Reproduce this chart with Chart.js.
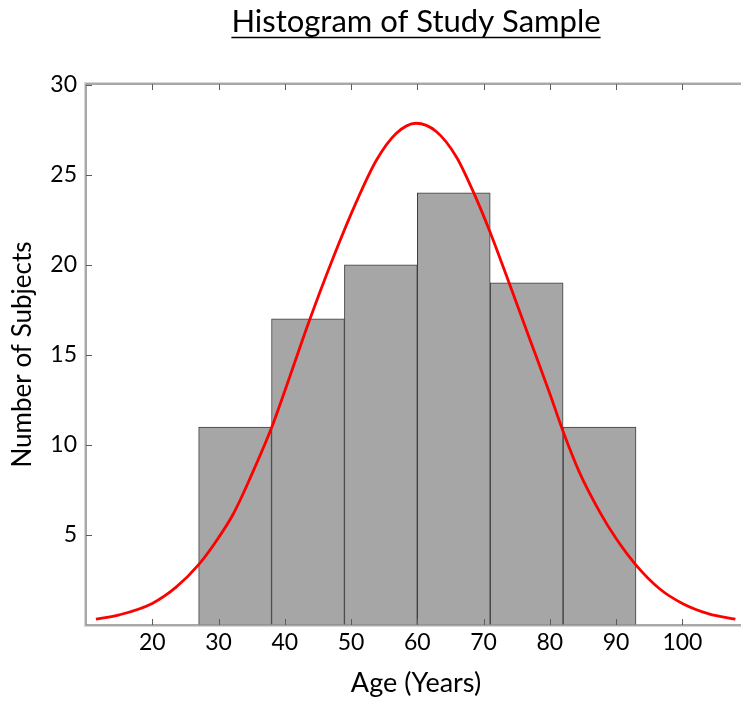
<!DOCTYPE html>
<html>
<head>
<meta charset="utf-8">
<script src="https://cdn.jsdelivr.net/npm/chart.js@4.4.1/dist/chart.umd.min.js"></script>
<style>
  html, body { margin: 0; padding: 0; background: #fff; overflow: hidden; }
  #wrap { width: 741px; height: 702px; overflow: hidden; }
</style>
</head>
<body>
<div id="wrap"><canvas id="histChart" width="760" height="702"></canvas></div>
<script>
// bin edges (years) and counts per bin
const binEdges = [27, 38, 49, 60, 71, 82, 93];
const counts = [11, 17, 20, 24, 19, 11];

// fitted normal curve
const curveAges = [11.5, 15, 20, 23.6, 27, 30, 32.2, 34.7, 38, 40, 43.7, 47.3, 50.8, 53.8, 56.8, 59.8,
    62.9, 65.9, 68.4, 70.9, 73.9, 77, 80, 82, 84.5, 87.5, 90, 93, 96.6, 100, 104, 108];
const curveValues = [0.32, 0.56, 1.2, 2.1, 3.35, 4.85, 6.15, 8.1, 10.95, 13.0, 16.9, 20.4, 23.5, 25.8, 27.3, 27.87,
    27.4, 26.0, 24.1, 21.9, 18.95, 15.85, 12.85, 10.75, 8.45, 6.3, 4.8, 3.33, 2.0, 1.2, 0.62, 0.32];

const xTickValues = [20, 30, 40, 50, 60, 70, 80, 90, 100];
const yTickValues = [5, 10, 15, 20, 25, 30];

const FONT = 'Lato, "Open Sans", sans-serif';
const TITLE_SIZE = 31;

const barData = counts.map((c, i) => ({ x: (binEdges[i] + binEdges[i + 1]) / 2, y: c }));
const curveData = curveAges.map((a, i) => ({ x: a, y: curveValues[i] }));

// Mathematica-style frame with inward ticks
const frameTicks = {
    id: 'frameTicks',
    afterDatasetsDraw(chart) {
        const { ctx, chartArea: a, scales: { x, y } } = chart;
        ctx.save();
        ctx.strokeStyle = '#d6d6d6';
        ctx.lineWidth = 1;
        ctx.strokeRect(a.left - 1.5, a.top - 1.5, a.right - a.left + 3, a.bottom - a.top + 3);
        ctx.strokeStyle = '#8c8c8c';
        ctx.lineWidth = 1.5;
        ctx.strokeRect(a.left, a.top, a.right - a.left, a.bottom - a.top);

        ctx.strokeStyle = '#5c5c5c';
        ctx.lineWidth = 1;
        ctx.beginPath();
        xTickValues.forEach(v => {
            const px = Math.round(x.getPixelForValue(v)) + 0.5;
            ctx.moveTo(px, a.bottom); ctx.lineTo(px, a.bottom - 6);
            ctx.moveTo(px, a.top); ctx.lineTo(px, a.top + 6);
        });
        yTickValues.forEach(v => {
            const py = Math.round(y.getPixelForValue(v)) + 0.5;
            ctx.moveTo(a.left, py); ctx.lineTo(a.left + 6, py);
        });
        ctx.stroke();
        ctx.restore();
    },
    afterDraw(chart) {
        // underline the title
        const tb = chart.titleBlock;
        if (!tb) return;
        const { ctx } = chart;
        ctx.save();
        ctx.font = TITLE_SIZE + 'px ' + FONT;
        const w = ctx.measureText(tb.options.text).width;
        const cx = tb.left + tb.width / 2;
        ctx.strokeStyle = '#000';
        ctx.lineWidth = 1.5;
        ctx.beginPath();
        ctx.moveTo(cx - w / 2, 37.5);
        ctx.lineTo(cx + w / 2, 37.5);
        ctx.stroke();
        ctx.restore();
    }
};

const ctx = document.getElementById('histChart').getContext('2d');
new Chart(ctx, {
    type: 'bar',
    data: {
        datasets: [{
            type: 'line',
            data: curveData,
            xAxisID: 'x',
            borderColor: '#ff0000',
            borderWidth: 2.8,
            pointRadius: 0,
            cubicInterpolationMode: 'monotone',
            fill: false,
            order: 0
        }, {
            type: 'bar',
            data: barData,
            xAxisID: 'xBars',
            backgroundColor: '#a6a6a6',
            borderColor: '#3d3d3d',
            borderWidth: 1,
            barPercentage: 1,
            categoryPercentage: 1,
            grouped: false,
            order: 1
        }]
    },
    options: {
        responsive: false,
        animation: false,
        devicePixelRatio: 1,
        layout: { padding: { left: 0, right: 14, top: 0, bottom: 0 } },
        plugins: {
            legend: { display: false },
            tooltip: { enabled: false },
            title: {
                display: true,
                text: 'Histogram of Study Sample',
                fullSize: false,
                color: '#000',
                font: { family: FONT, size: TITLE_SIZE, weight: 'normal' },
                padding: { top: 3.4, bottom: 43.4 }
            }
        },
        scales: {
            x: {
                type: 'linear',
                min: 10,
                max: 109.6,
                offset: false,
                grid: { display: false, drawTicks: false, offset: false },
                border: { display: false },
                afterBuildTicks: s => { s.ticks = xTickValues.map(v => ({ value: v })); },
                afterFit: s => { s.height = 77; },
                ticks: {
                    color: '#000',
                    padding: 4,
                    maxRotation: 0,
                    font: { family: FONT, size: 23 }
                },
                title: {
                    display: true,
                    text: 'Age (Years)',
                    color: '#000',
                    font: { family: FONT, size: 27 },
                    padding: { top: 0, bottom: 3 }
                }
            },
            // hidden twin axis for the bars so their width follows the bin spacing
            xBars: {
                type: 'linear',
                axis: 'x',
                position: 'bottom',
                display: false,
                min: 10,
                max: 109.6,
                offset: false,
                grid: { offset: false },
                afterBuildTicks: s => { s.ticks = []; }
            },
            y: {
                min: 0,
                max: 30.05,
                grid: { display: false, drawTicks: false },
                border: { display: false },
                afterBuildTicks: s => { s.ticks = yTickValues.map(v => ({ value: v })); },
                afterFit: s => { s.width = 86; },
                ticks: {
                    color: '#000',
                    padding: 9,
                    font: { family: FONT, size: 23 }
                },
                title: {
                    display: true,
                    text: 'Number of Subjects',
                    color: '#000',
                    font: { family: FONT, size: 26 },
                    padding: { top: 7, bottom: 0 }
                }
            }
        }
    },
    plugins: [frameTicks]
});
</script>
</body>
</html>
